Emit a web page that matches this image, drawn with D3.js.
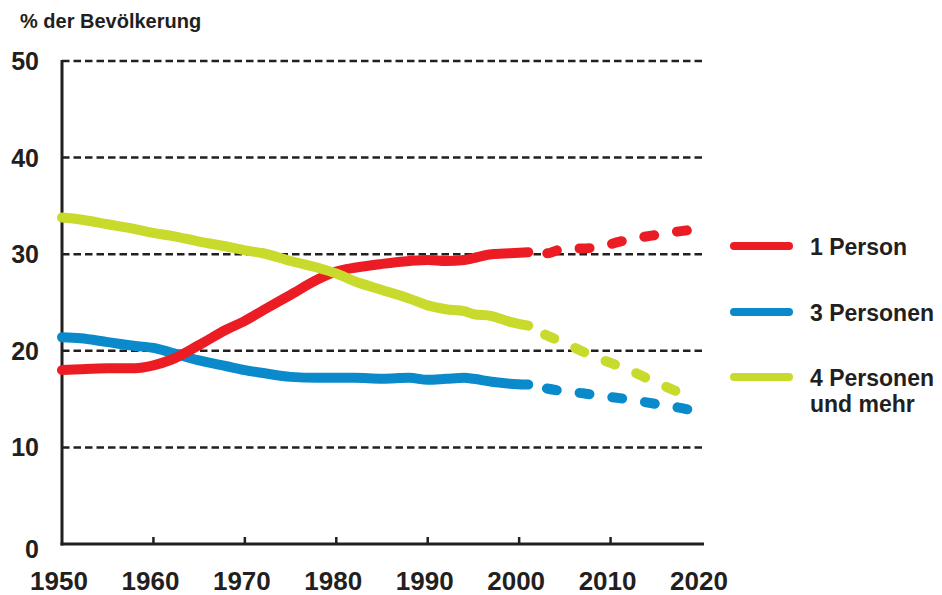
<!DOCTYPE html>
<html>
<head>
<meta charset="utf-8">
<script src="https://cdn.jsdelivr.net/npm/d3@7"></script>
<style>
  body { margin: 0; background: #fff; }
  text { font-family: "Liberation Sans", Arial, sans-serif; font-weight: bold; fill: #231f20; }
</style>
</head>
<body>
<div class="canvas"></div>
<script>
const years = [1950, 1952, 1955, 1958, 1960, 1962, 1965, 1968, 1970, 1972, 1975, 1978, 1980,
               1982, 1985, 1988, 1990, 1992, 1994, 1995, 1997, 1999, 2001];
const projYears = [2001, 2003, 2005, 2007, 2009, 2011, 2013, 2015, 2017, 2018.6];

// 1 Person
const onePerson = [18.0, 18.1, 18.2, 18.2, 18.5, 19.1, 20.6, 22.2, 23.1, 24.2, 25.8, 27.4, 28.2,
                   28.6, 29.0, 29.3, 29.4, 29.3, 29.4, 29.6, 30.0, 30.1, 30.2];
const onePersonProj = [30.2, 30.1, 30.6, 30.6, 30.8, 31.3, 31.7, 32.0, 32.3, 32.5];
// 3 Personen
const threePersons = [21.4, 21.3, 20.9, 20.5, 20.3, 19.8, 19.0, 18.4, 18.0, 17.7, 17.3, 17.2, 17.2,
                      17.2, 17.1, 17.2, 17.0, 17.1, 17.2, 17.1, 16.8, 16.6, 16.5];
const threePersonsProj = [16.5, 16.1, 15.8, 15.6, 15.3, 15.1, 14.8, 14.5, 14.2, 13.9];
// 4 Personen und mehr
const fourPlus = [33.8, 33.6, 33.1, 32.6, 32.2, 31.9, 31.3, 30.8, 30.4, 30.1, 29.3, 28.6, 28.0,
                  27.2, 26.3, 25.4, 24.7, 24.3, 24.1, 23.8, 23.6, 23.0, 22.6];
const fourPlusProj = [22.6, 21.6, 20.8, 19.9, 19.1, 18.4, 17.6, 16.7, 15.9, 15.1];

const yTicks = [0, 10, 20, 30, 40, 50];
const xTicks = [1950, 1960, 1970, 1980, 1990, 2000, 2010, 2020];

const series = [
  {name: '3 Personen', lines: ['3 Personen'], colour: '#0a8acb', hist: threePersons, proj: threePersonsProj, legendY: 312},
  {name: '1 Person', lines: ['1 Person'], colour: '#ec1c24', hist: onePerson, proj: onePersonProj, legendY: 246},
  {name: '4 Personen und mehr', lines: ['4 Personen', 'und mehr'], colour: '#c8da2b', hist: fourPlus, proj: fourPlusProj, legendY: 377}
];

const svg = d3.select('.canvas')
  .append('svg')
  .attr('width', 942)
  .attr('height', 595);

const x = d3.scaleLinear().domain([1950, 2020]).range([62, 702]);
const y = d3.scaleLinear().domain([0, 50]).range([544, 61]);

// title
svg.append('text')
  .attr('x', 20).attr('y', 28)
  .attr('font-size', 20)
  .text('% der Bevölkerung');

// dashed gridlines
svg.append('g')
  .selectAll('line')
  .data(yTicks.filter(d => d > 0))
  .enter().append('line')
    .attr('x1', x(1950)).attr('x2', 704)
    .attr('y1', d => y(d)).attr('y2', d => y(d))
    .attr('stroke', '#231f20')
    .attr('stroke-width', 2.5)
    .attr('stroke-dasharray', '7.5,4');

// y labels
svg.append('g')
  .selectAll('text')
  .data(yTicks)
  .enter().append('text')
    .attr('x', 39)
    .attr('y', d => y(d) + (d === 0 ? 5 : 0))
    .attr('dy', '0.36em')
    .attr('text-anchor', 'end')
    .attr('font-size', 25)
    .text(d => d);

// axes
svg.append('line')
  .attr('x1', x(1950)).attr('x2', x(1950))
  .attr('y1', y(50) - 1).attr('y2', y(0) + 1.5)
  .attr('stroke', '#231f20').attr('stroke-width', 3);
svg.append('line')
  .attr('x1', x(1950) - 1.5).attr('x2', 704)
  .attr('y1', y(0)).attr('y2', y(0))
  .attr('stroke', '#231f20').attr('stroke-width', 3);

// small ticks pointing up
svg.append('g')
  .selectAll('line')
  .data(xTicks.slice(1, -1))
  .enter().append('line')
    .attr('x1', d => x(d)).attr('x2', d => x(d))
    .attr('y1', y(0)).attr('y2', y(0) - 7)
    .attr('stroke', '#231f20').attr('stroke-width', 2.5);

// x labels
svg.append('g')
  .selectAll('text')
  .data(xTicks)
  .enter().append('text')
    .attr('x', d => x(d) - 3)
    .attr('y', 590)
    .attr('text-anchor', 'middle')
    .attr('font-size', 26)
    .text(d => d);

// lines
const lineGen = (yrs) => d3.line()
  .x((d, i) => x(yrs[i]))
  .y(d => y(d))
  .curve(d3.curveMonotoneX);

const graph = svg.append('g');

series.forEach(s => {
  graph.append('path')
    .attr('d', lineGen(years)(s.hist))
    .attr('fill', 'none')
    .attr('stroke', s.colour)
    .attr('stroke-width', 10)
    .attr('stroke-linecap', 'round')
    .attr('stroke-linejoin', 'round');

  graph.append('path')
    .attr('d', lineGen(projYears)(s.proj))
    .attr('fill', 'none')
    .attr('stroke', s.colour)
    .attr('stroke-width', 10)
    .attr('stroke-linecap', 'round')
    .attr('stroke-dasharray', '10,23')
    .attr('stroke-dashoffset', 14);
});

// legend
const legend = svg.append('g');
series.forEach(s => {
  legend.append('line')
    .attr('x1', 734).attr('x2', 789)
    .attr('y1', s.legendY).attr('y2', s.legendY)
    .attr('stroke', s.colour)
    .attr('stroke-width', 8)
    .attr('stroke-linecap', 'round');
  const t = legend.append('text')
    .attr('x', 810)
    .attr('y', s.legendY + 9)
    .attr('font-size', 23);
  s.lines.forEach((l, i) => {
    t.append('tspan')
      .attr('x', 810)
      .attr('dy', i === 0 ? 0 : 26)
      .text(l);
  });
});
</script>
</body>
</html>
